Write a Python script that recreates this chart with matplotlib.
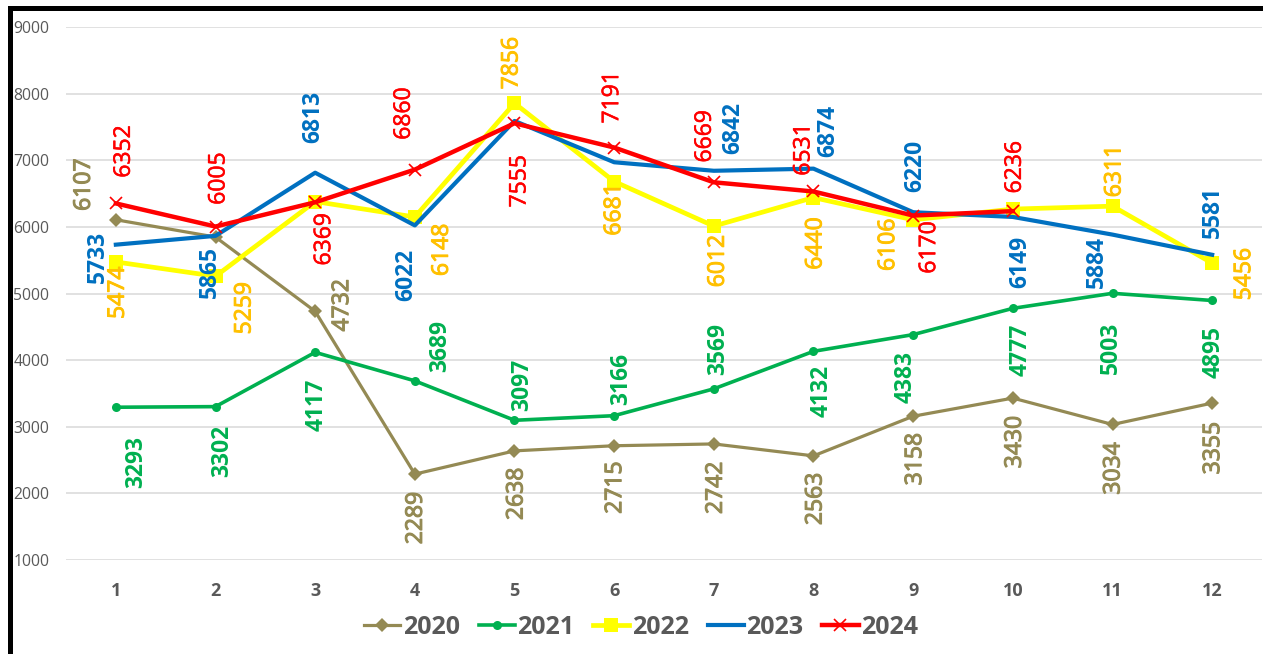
import matplotlib
matplotlib.use("Agg")
import matplotlib.pyplot as plt
import matplotlib.patheffects as pe
from matplotlib.lines import Line2D

plt.rcParams['font.family'] = ['Open Sans', 'DejaVu Sans']

months = list(range(1, 13))
series_names = ["2020", "2021", "2022", "2023", "2024"]
v2020 = [6107, 5847, 4732, 2289, 2638, 2715, 2742, 2563, 3158, 3430, 3034, 3355]
v2021 = [3293, 3302, 4117, 3689, 3097, 3166, 3569, 4132, 4383, 4777, 5003, 4895]
v2022 = [5474, 5259, 6380, 6148, 7856, 6681, 6012, 6440, 6106, 6267, 6311, 5456]
v2023 = [5733, 5865, 6813, 6022, 7590, 6970, 6842, 6874, 6220, 6149, 5884, 5581]
v2024 = [6352, 6005, 6369, 6860, 7555, 7191, 6669, 6531, 6170, 6236]
y_ticks = [1000, 2000, 3000, 4000, 5000, 6000, 7000, 8000, 9000]

# label offsets in pixels (dx, dy up); None = label hidden
off2020 = [(-32, 35), None, (27, 6), (1, -44), (2, -43), (1, -42), (2, -44),
           (2, -43), (2, -43), (2, -44), (1, -44), (1, -45)]
off2021 = [(20, -55), (7, -44), (1, -52), (25, 35), (8, 35), (7, 37), (4, 40),
           (8, -40), (-8, -42), (8, -41), (-2, -55), (1, -52)]
off2022 = [(2, -31), (29, -32), None, (27, -33), (-3, 40), (0, -28), (4, -35),
           (2, -46), (-25, -25), None, (2, 35), (32, -11)]
off2023 = [(-18, -12), (-6, -36), (-2, 56), (-9, -50), None, None, (19, 43),
           (15, 38), (2, 46), (7, -45), (-16, -27), (1, 43)]
off2024 = [(8, 52), (3, 48), (9, -37), (-11, 56), (5, -58), (-2, 50), (-9, 46),
           (-10, 42), (16, -32), (2, 44)]

styles = [
    dict(values=v2020, offs=off2020, color='#948A54', lab='#948A54', lw=2.3,
         marker='D', ms=7, mew=0, weight='normal', stroke=0.8),
    dict(values=v2021, offs=off2021, color='#00B050', lab='#00B050', lw=2.6,
         marker='o', ms=6.5, mew=0, weight='bold', stroke=0),
    dict(values=v2022, offs=off2022, color='#FFFF00', lab='#FFC000', lw=3.4,
         marker='s', ms=10.5, mew=0, weight='normal', stroke=0.7),
    dict(values=v2023, offs=off2023, color='#0070C0', lab='#0070C0', lw=3.0,
         marker=None, ms=0, mew=0, weight='bold', stroke=0),
    dict(values=v2024, offs=off2024, color='#FF0000', lab='#FF0000', lw=3.2,
         marker='x', ms=9, mew=1.2, weight='normal', stroke=0.4),
]

W, H = 1263, 654
fig = plt.figure(figsize=(W / 100, H / 100), dpi=100)
ax = fig.add_axes([66 / W, 1 - 560 / H, (1262 - 66) / W, (560 - 27) / H])

handles = []
for name, s in zip(series_names, styles):
    xs = months[:len(s['values'])]
    ln, = ax.plot(xs, s['values'], color=s['color'], lw=s['lw'],
                  marker=s['marker'], ms=s['ms'], mew=s['mew'],
                  mec=s['color'], mfc=s['color'], label=name,
                  solid_joinstyle='round', zorder=3)
    handles.append(ln)
    effects = ([pe.withStroke(linewidth=s['stroke'], foreground=s['lab'])]
               if s['stroke'] else [])
    for x, v, o in zip(xs, s['values'], s['offs']):
        if o is None:
            continue
        ax.annotate(str(v), (x, v), xytext=o, textcoords='offset pixels',
                    rotation=90, ha='center', va='center',
                    fontsize=16.5, color=s['lab'], fontweight=s['weight'],
                    path_effects=effects, zorder=5)

ax.set_xlim(0.5, 12.5)
ax.set_ylim(1000, 9000)
ax.set_yticks(y_ticks)
ax.set_xticks(months)
ax.set_xticklabels([str(m) for m in months], fontsize=13,
                   fontweight='bold', color='#595959')
ax.set_yticklabels([str(t) for t in y_ticks], fontsize=11.3, color='#595959')
ax.tick_params(axis='both', length=0)
ax.tick_params(axis='y', pad=12)
ax.tick_params(axis='x', pad=16)
ax.grid(axis='y', color='#D9D9D9', lw=1.1, zorder=0)
ax.set_axisbelow(True)
for sp in ax.spines.values():
    sp.set_visible(False)

leg = fig.legend(handles=handles, loc='center', ncol=5,
                 bbox_to_anchor=(641 / W, 1 - 627 / H), frameon=False,
                 prop={'size': 18, 'weight': 'bold'}, handlelength=1.45,
                 handletextpad=0.1, columnspacing=0.75)
for t in leg.get_texts():
    t.set_color('#595959')

# black frame lines (top and left)
fig.add_artist(Line2D([10 / W, 1.0], [1 - 8 / H, 1 - 8 / H],
                      transform=fig.transFigure, color='black', lw=3.6))
fig.add_artist(Line2D([10 / W, 10 / W], [0, 1 - 8 / H],
                      transform=fig.transFigure, color='black', lw=3.6,
                      solid_capstyle='projecting'))

fig.savefig('out.png', dpi=100)
